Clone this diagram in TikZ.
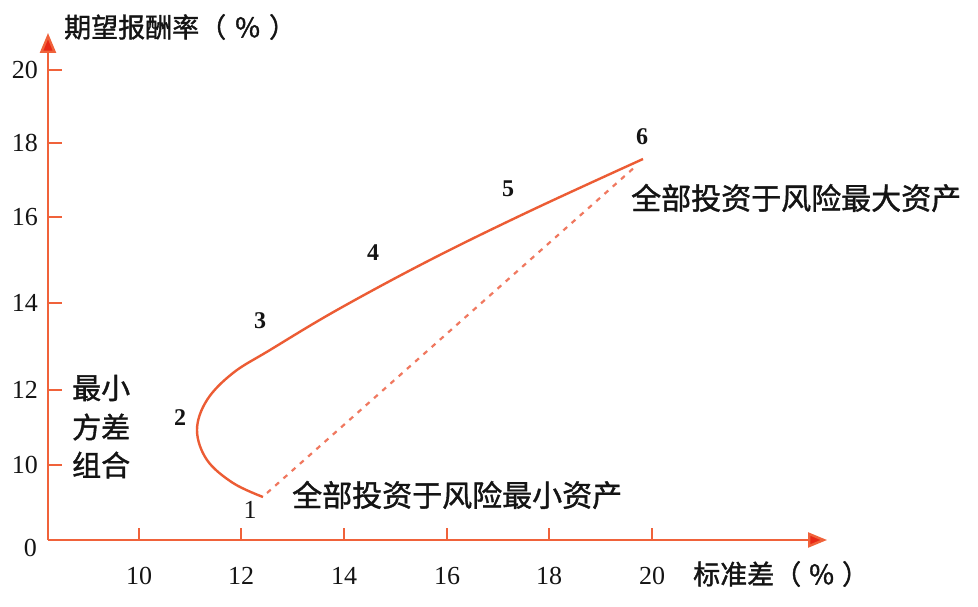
\documentclass[tikz,border=0pt]{standalone}
\usepackage{fontspec}
\setmainfont{Liberation Serif}
\newfontfamily\cjk{Noto Sans CJK SC}[FakeBold=1.3]
\usetikzlibrary{arrows.meta}
\definecolor{axisc}{RGB}{240,98,58}
\definecolor{tipc}{RGB}{232,40,22}
\definecolor{curvec}{RGB}{236,92,52}
\definecolor{dashc}{RGB}{240,120,95}
\definecolor{txt}{RGB}{20,20,20}
\tikzset{
  axisline/.style={draw=axisc,line width=2.4pt},
  tickline/.style={draw=axisc,line width=2pt},
  ticklab/.style={text=txt,font=\fontsize{26}{26}\selectfont,inner sep=0pt},
  ptlab/.style={text=txt,font=\bfseries\fontsize{24}{24}\selectfont,inner sep=0pt},
  ptlabreg/.style={text=txt,font=\fontsize{26}{26}\selectfont,inner sep=0pt},
  cjklab/.style={text=txt,font=\cjk\fontsize{27}{27}\selectfont,inner sep=0pt},
  stackcjk/.style={text=txt,font=\cjk\fontsize{29}{29}\selectfont,inner sep=0pt},
  bigcjk/.style={text=txt,font=\cjk\fontsize{30}{30}\selectfont,inner sep=0pt},
  curveline/.style={draw=curvec,line width=2.4pt},
  dashline/.style={draw=dashc,line width=2.2pt,dash pattern=on 5pt off 6pt},
  arrowtip/.style={-{Triangle[length=20pt,width=16pt,fill=tipc]}}
}
\begin{document}
\begin{tikzpicture}[x=1pt,y=-1pt]
\useasboundingbox[fill=white] (0,0) rectangle (978,607);
% axes
\coordinate (O) at (48,540);
\coordinate (ytop) at (48,33);
\coordinate (xend) at (827,540);
\draw[axisline,arrowtip,draw=axisc] (O) -- (ytop);
\draw[axisline,-{Triangle[length=19pt,width=15pt,fill=tipc]},draw=axisc] (O) -- (xend);
% y ticks
\foreach \v/\py in {20/70,18/143,16/217,14/303,12/390,10/465}{
  \coordinate (yt\v) at (48,\py);
  \draw[tickline] (yt\v) -- ++(14,0);
  \node[ticklab,anchor=east] (yl\v) at (38,\py) {\v};
}
\node[ticklab,anchor=east] (yl0) at (37,548) {0};
% x ticks
\foreach \v/\px in {10/139,12/241,14/344,16/447,18/549,20/652}{
  \coordinate (xt\v) at (\px,540);
  \draw[tickline] (xt\v) -- ++(0,-12);
  \node[ticklab] (xl\v) at (\px,576) {\v};
}
% axis titles
\node[cjklab,anchor=west] (ytitle) at (64,27) {期望报酬率（\hspace{9pt}\%\hspace{9pt}）};
\node[cjklab,anchor=west] (xtitle) at (693,574) {标准差（\hspace{8pt}\%\hspace{8pt}）};
% curve
\coordinate (p1) at (263,497);
\coordinate (p6) at (643,159);
\draw[curveline] plot[smooth,tension=0.6] coordinates {(263,497) (233,483) (207,460) (197,430) (207,400) (233,373) (270,350) (337,310) (430,260) (530,211) (643,159)};
\coordinate (d1) at (267,493);
\coordinate (d6) at (636,166);
\draw[dashline] (d1) -- (d6);
% point labels
\node[ptlabreg] (n1) at (250,510) {1};
\node[ptlab] (n2) at (180,418) {2};
\node[ptlab] (n3) at (260,321) {3};
\node[ptlab] (n4) at (373,253) {4};
\node[ptlab] (n5) at (508,189) {5};
\node[ptlab] (n6) at (642,137) {6};
% annotations
\node[bigcjk,anchor=west] (minasset) at (292,495) {全部投资于风险最小资产};
\node[bigcjk,anchor=west] (maxasset) at (631,198) {全部投资于风险最大资产};
\node[stackcjk,anchor=west] (mv1) at (72,388) {最小};
\node[stackcjk,anchor=west] (mv2) at (72,427) {方差};
\node[stackcjk,anchor=west] (mv3) at (72,465) {组合};
\end{tikzpicture}
\end{document}
